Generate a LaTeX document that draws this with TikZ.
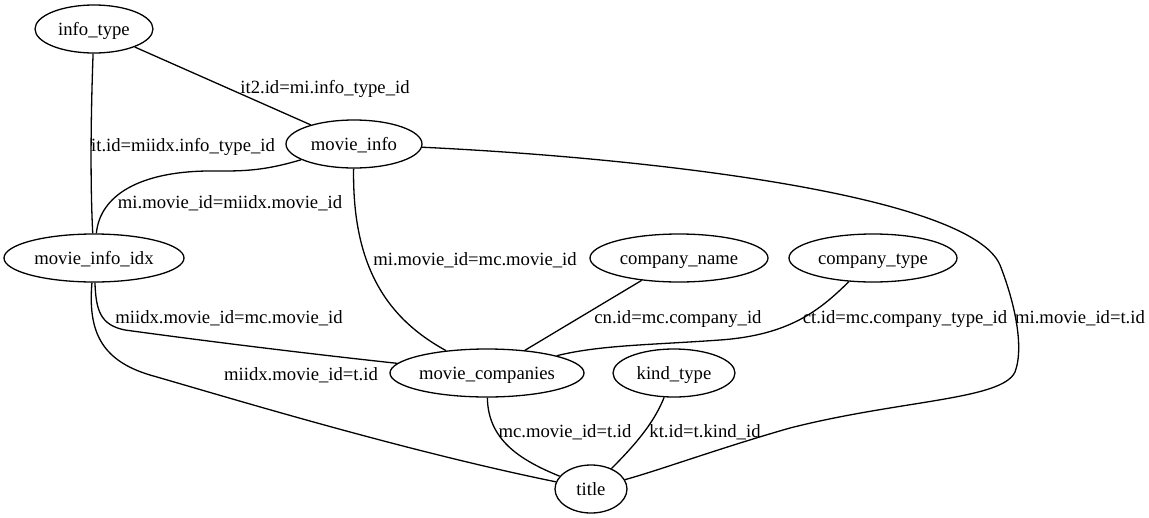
\documentclass[tikz,border=0pt]{standalone}
\usepackage{fontspec}
\setmainfont{Liberation Serif}
\usetikzlibrary{shapes.geometric}
\begin{document}
\begin{tikzpicture}[x=1pt,y=-1pt,
  every node/.style={font=\fontsize{18.67pt}{20pt}\selectfont, text height=16.5pt, text depth=4pt},
  tbl/.style={draw, ellipse, line width=1.3pt, inner sep=0pt, minimum height=48pt},
  lbl/.style={inner sep=0pt},
  edge/.style={draw, line width=1.3pt}]
  \useasboundingbox (0,0) rectangle (1149,517);

  % tables
  \node[tbl, minimum width=118pt] (it)  at (94,29)   {info\_type};
  \node[tbl, minimum width=136pt] (mi)  at (354,144) {movie\_info};
  \node[tbl, minimum width=180pt] (mii) at (94,258)  {movie\_info\_idx};
  \node[tbl, minimum width=178pt] (cn)  at (679,258) {company\_name};
  \node[tbl, minimum width=168pt] (ct)  at (873,258) {company\_type};
  \node[tbl, minimum width=194pt] (mc)  at (487,373) {movie\_companies};
  \node[tbl, minimum width=122pt] (kt)  at (674,373) {kind\_type};
  \node[tbl, minimum width=72pt]  (t)   at (591,489) {title};

  % join conditions
  \path[edge] (it) -- (mi);
  \path[edge] (it) .. controls (91,110) and (90,180) .. (mii);
  \path[edge] (mi) .. controls (260,172) and (240,171) .. (207,171)
                   .. controls (140,172) and (100,195) .. (mii);
  \path[edge] (mi) .. controls (352,270) and (390,320) .. (mc);
  \path[edge] (mi) .. controls (650,158) and (970,195) .. (1000,265)
                   .. controls (1013,298) and (1025,345) .. (1015,372)
                   .. controls (1002,400) and (900,400) .. (790,428)
                   .. controls (720,448) and (660,470) .. (t);
  \path[edge] (mii) .. controls (96,310) and (100,325) .. (125,330)
                    .. controls (220,343) and (320,355) .. (mc);
  \path[edge] (mii) .. controls (88,330) and (100,360) .. (150,375)
                    .. controls (220,395) and (400,450) .. (t);
  \path[edge] (cn) -- (mc);
  \path[edge] (ct) .. controls (820,310) and (790,335) .. (720,340)
                   .. controls (650,345) and (600,345) .. (mc);
  \path[edge] (mc) .. controls (488,440) and (520,460) .. (t);
  \path[edge] (kt) .. controls (655,420) and (640,440) .. (t);

  % edge labels
  \node[lbl] (l1)  at (325,87)  {it2.id=mi.info\_type\_id};
  \node[lbl] (l2)  at (183,145) {it.id=miidx.info\_type\_id};
  \node[lbl] (l3)  at (230,202) {mi.movie\_id=miidx.movie\_id};
  \node[lbl] (l4)  at (475,259) {mi.movie\_id=mc.movie\_id};
  \node[lbl] (l5)  at (229,317) {miidx.movie\_id=mc.movie\_id};
  \node[lbl] (l6)  at (678,317) {cn.id=mc.company\_id};
  \node[lbl] (l7)  at (905,317) {ct.id=mc.company\_type\_id};
  \node[lbl] (l8)  at (1080,317) {mi.movie\_id=t.id};
  \node[lbl] (l9)  at (301,374) {miidx.movie\_id=t.id};
  \node[lbl] (l10) at (565,431) {mc.movie\_id=t.id};
  \node[lbl] (l11) at (705,431) {kt.id=t.kind\_id};
\end{tikzpicture}
\end{document}
